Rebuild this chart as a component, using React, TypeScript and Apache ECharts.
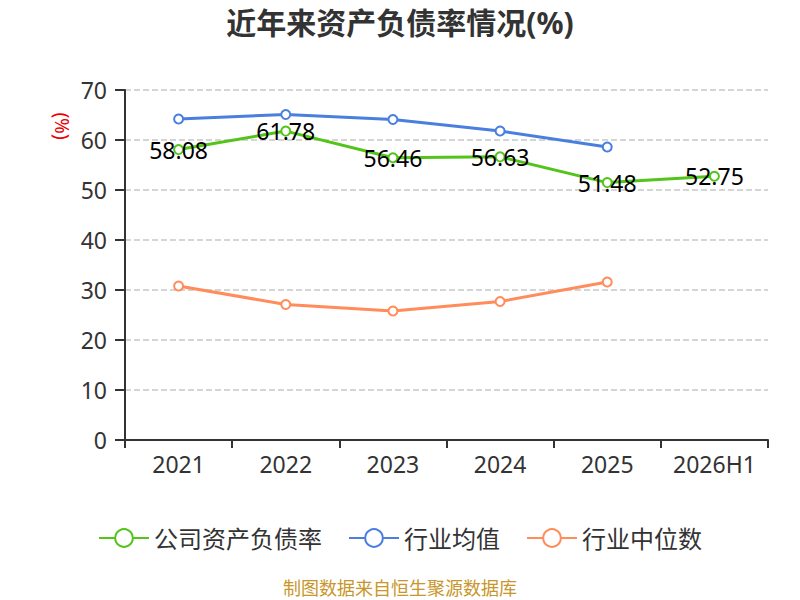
import React, { useEffect, useRef } from "react";
import * as echarts from "echarts";

const categories = ["2021", "2022", "2023", "2024", "2025", "2026H1"];
const companyRatio = [58.08, 61.78, 56.46, 56.63, 51.48, 52.75];
const industryAvg = [64.2, 65.1, 64.1, 61.8, 58.6, null];
const industryMedian = [30.8, 27.1, 25.8, 27.7, 31.6, null];
const seriesNames = ["公司资产负债率", "行业均值", "行业中位数"];

const FONT = "'Noto Sans', 'Noto Sans CJK SC', sans-serif";

export default function App() {
  const ref = useRef<HTMLDivElement>(null);
  useEffect(() => {
    document.body.style.margin = "0";
    const chart = echarts.init(ref.current!, null, { renderer: "svg" });
    chart.setOption({
      animation: false,
      textStyle: { fontFamily: FONT },
      title: {
        text: "近年来资产负债率情况(%)",
        left: "center",
        top: 2,
        textStyle: { fontSize: 30, fontWeight: "bold", color: "#333", fontFamily: FONT },
      },
      graphic: [
        {
          type: "text",
          left: "center",
          top: 579,
          style: { text: "制图数据来自恒生聚源数据库", fill: "#c8962a", fontSize: 18, fontFamily: FONT },
        },
        {
          type: "text",
          x: 62,
          y: 126,
          rotation: -Math.PI / 2,
          style: {
            text: "(%)",
            fill: "#ee0000",
            fontSize: 19,
            fontFamily: FONT,
            align: "center",
            verticalAlign: "middle",
          },
        },
      ],
      legend: {
        top: 521,
        left: "center",
        itemWidth: 50,
        itemHeight: 22,
        itemGap: 26,
        textStyle: { fontSize: 24, color: "#333", fontFamily: FONT },
        data: seriesNames,
      },
      grid: { left: 125, right: 32, top: 90, bottom: 160 },
      xAxis: {
        type: "category",
        data: categories,
        axisLine: { lineStyle: { color: "#333", width: 2 } },
        axisTick: { show: true, interval: 0, length: 8, lineStyle: { color: "#333", width: 2 } },
        axisLabel: { interval: 0, fontSize: 23, color: "#333", margin: 12, fontFamily: FONT },
      },
      yAxis: {
        type: "value",
        min: 0,
        max: 70,
        interval: 10,
        axisLine: { show: true, lineStyle: { color: "#333", width: 2 } },
        axisTick: { show: true, length: 10, lineStyle: { color: "#333", width: 2 } },
        axisLabel: { fontSize: 23, color: "#333", margin: 18, fontFamily: FONT },
        splitLine: { lineStyle: { type: "dashed", color: "#c8c8c8", width: 1.5 } },
      },
      series: [
        {
          name: seriesNames[0],
          type: "line",
          data: companyRatio,
          symbol: "emptyCircle",
          symbolSize: 9,
          lineStyle: { width: 3, color: "#52c41a" },
          itemStyle: { color: "#52c41a" },
          label: { show: true, position: "inside", fontSize: 23, color: "#000", fontFamily: FONT },
          z: 3,
        },
        {
          name: seriesNames[1],
          type: "line",
          data: industryAvg,
          symbol: "emptyCircle",
          symbolSize: 9,
          lineStyle: { width: 3, color: "#4a7fe0" },
          itemStyle: { color: "#4a7fe0" },
        },
        {
          name: seriesNames[2],
          type: "line",
          data: industryMedian,
          symbol: "emptyCircle",
          symbolSize: 9,
          lineStyle: { width: 3, color: "#ff8c5a" },
          itemStyle: { color: "#ff8c5a" },
        },
      ],
    });
    return () => chart.dispose();
  }, []);
  return <div ref={ref} style={{ width: 800, height: 600 }} />;
}
